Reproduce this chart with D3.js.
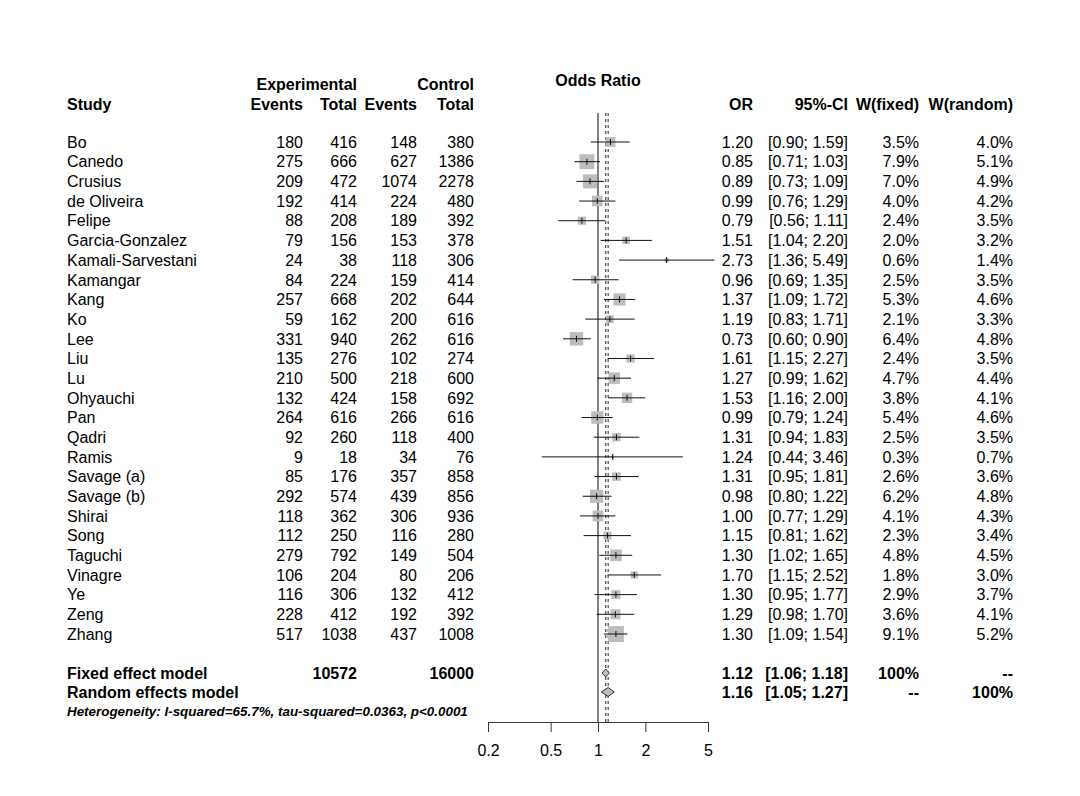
<!DOCTYPE html>
<html>
<head>
<meta charset="utf-8">
<script src="https://cdn.jsdelivr.net/npm/d3@7/dist/d3.min.js"></script>
<style>
  body { margin: 0; background: #fff; }
  svg text { font-family: "Liberation Sans", Arial, Helvetica, sans-serif; fill: #000; }
</style>
</head>
<body>
<svg id="chart" width="1080" height="796"></svg>
<script>
// study level data
const studies = ["Bo", "Canedo", "Crusius", "de Oliveira", "Felipe", "Garcia-Gonzalez",
  "Kamali-Sarvestani", "Kamangar", "Kang", "Ko", "Lee", "Liu", "Lu", "Ohyauchi", "Pan",
  "Qadri", "Ramis", "Savage (a)", "Savage (b)", "Shirai", "Song", "Taguchi", "Vinagre",
  "Ye", "Zeng", "Zhang"];
const expEvents = [180, 275, 209, 192, 88, 79, 24, 84, 257, 59, 331, 135, 210, 132, 264,
  92, 9, 85, 292, 118, 112, 279, 106, 116, 228, 517];
const expTotal = [416, 666, 472, 414, 208, 156, 38, 224, 668, 162, 940, 276, 500, 424, 616,
  260, 18, 176, 574, 362, 250, 792, 204, 306, 412, 1038];
const ctrlEvents = [148, 627, 1074, 224, 189, 153, 118, 159, 202, 200, 262, 102, 218, 158,
  266, 118, 34, 357, 439, 306, 116, 149, 80, 132, 192, 437];
const ctrlTotal = [380, 1386, 2278, 480, 392, 378, 306, 414, 644, 616, 616, 274, 600, 692,
  616, 400, 76, 858, 856, 936, 280, 504, 206, 412, 392, 1008];
const oddsRatio = [1.20, 0.85, 0.89, 0.99, 0.79, 1.51, 2.73, 0.96, 1.37, 1.19, 0.73, 1.61,
  1.27, 1.53, 0.99, 1.31, 1.24, 1.31, 0.98, 1.00, 1.15, 1.30, 1.70, 1.30, 1.29, 1.30];
const ciLower = [0.90, 0.71, 0.73, 0.76, 0.56, 1.04, 1.36, 0.69, 1.09, 0.83, 0.60, 1.15,
  0.99, 1.16, 0.79, 0.94, 0.44, 0.95, 0.80, 0.77, 0.81, 1.02, 1.15, 0.95, 0.98, 1.09];
const ciUpper = [1.59, 1.03, 1.09, 1.29, 1.11, 2.20, 5.49, 1.35, 1.72, 1.71, 0.90, 2.27,
  1.62, 2.00, 1.24, 1.83, 3.46, 1.81, 1.22, 1.29, 1.62, 1.65, 2.52, 1.77, 1.70, 1.54];
const wFixed = [3.5, 7.9, 7.0, 4.0, 2.4, 2.0, 0.6, 2.5, 5.3, 2.1, 6.4, 2.4, 4.7, 3.8, 5.4,
  2.5, 0.3, 2.6, 6.2, 4.1, 2.3, 4.8, 1.8, 2.9, 3.6, 9.1];
const wRandom = [4.0, 5.1, 4.9, 4.2, 3.5, 3.2, 1.4, 3.5, 4.6, 3.3, 4.8, 3.5, 4.4, 4.1, 4.6,
  3.5, 0.7, 3.6, 4.8, 4.3, 3.4, 4.5, 3.0, 3.7, 4.1, 5.2];

// pooled estimates
const models = ["Fixed effect model", "Random effects model"];
const modelOR = [1.12, 1.16];
const modelLower = [1.06, 1.05];
const modelUpper = [1.18, 1.27];
const modelTotals = [["10572", "16000"], ["", ""]];
const modelWFixed = ["100%", "--"];
const modelWRandom = ["--", "100%"];
const heterogeneity = "Heterogeneity: I-squared=65.7%, tau-squared=0.0363, p<0.0001";

const axisTicks = [0.2, 0.5, 1, 2, 5];

const svg = d3.select('#chart');
const fontSize = 16;

const x = d3.scaleLog().domain([0.2, 5]).range([488, 708]);
const rowY = d3.scaleLinear().domain([0, studies.length - 1]).range([142, 634]);
const modelY = [673, 692];
const axisY = 722;
const lineTop = 113;

const cols = {
  study: 67, expEvents: 303, expTotal: 357, ctrlEvents: 417, ctrlTotal: 474,
  or: 753, ci: 848, wf: 919, wr: 1013
};
const fmt = d3.format('.2f');
const pct = (v) => d3.format('.1f')(v) + '%';

function addText(g, txt, xPos, yCenter, anchor, weight, size, style) {
  g.append('text')
    .attr('x', xPos)
    .attr('y', yCenter)
    .attr('dy', '0.36em')
    .attr('text-anchor', anchor)
    .style('font-size', (size || fontSize) + 'px')
    .style('font-weight', weight || 'normal')
    .style('font-style', style || 'normal')
    .text(txt);
}

// headers
const head = svg.append('g');
addText(head, 'Experimental', cols.expTotal, 84, 'end', 'bold');
addText(head, 'Control', cols.ctrlTotal, 84, 'end', 'bold');
addText(head, 'Odds Ratio', x(1), 80, 'middle', 'bold');
addText(head, 'Study', cols.study, 104, 'start', 'bold');
addText(head, 'Events', cols.expEvents, 104, 'end', 'bold');
addText(head, 'Total', cols.expTotal, 104, 'end', 'bold');
addText(head, 'Events', cols.ctrlEvents, 104, 'end', 'bold');
addText(head, 'Total', cols.ctrlTotal, 104, 'end', 'bold');
addText(head, 'OR', cols.or, 104, 'end', 'bold');
addText(head, '95%-CI', cols.ci, 104, 'end', 'bold');
addText(head, 'W(fixed)', cols.wf, 104, 'end', 'bold');
addText(head, 'W(random)', cols.wr, 104, 'end', 'bold');

// reference lines
svg.append('line')
  .attr('x1', x(1)).attr('x2', x(1))
  .attr('y1', lineTop).attr('y2', axisY)
  .attr('stroke', '#000').attr('stroke-width', 1);
modelOR.forEach((v) => {
  svg.append('line')
    .attr('x1', x(v)).attr('x2', x(v))
    .attr('y1', lineTop).attr('y2', axisY)
    .attr('stroke', '#222').attr('stroke-width', 1)
    .attr('stroke-dasharray', '3,3');
});

// study rows
const rows = svg.append('g');
studies.forEach((name, i) => {
  const y = rowY(i);
  addText(rows, name, cols.study, y, 'start');
  addText(rows, expEvents[i], cols.expEvents, y, 'end');
  addText(rows, expTotal[i], cols.expTotal, y, 'end');
  addText(rows, ctrlEvents[i], cols.ctrlEvents, y, 'end');
  addText(rows, ctrlTotal[i], cols.ctrlTotal, y, 'end');
  addText(rows, fmt(oddsRatio[i]), cols.or, y, 'end');
  addText(rows, '[' + fmt(ciLower[i]) + '; ' + fmt(ciUpper[i]) + ']', cols.ci, y, 'end');
  addText(rows, pct(wFixed[i]), cols.wf, y, 'end');
  addText(rows, pct(wRandom[i]), cols.wr, y, 'end');

  // box size from fixed weight
  const s = 5.3 * Math.sqrt(wFixed[i]);
  rows.append('rect')
    .attr('x', x(oddsRatio[i]) - s / 2)
    .attr('y', y - s / 2)
    .attr('width', s).attr('height', s)
    .attr('fill', '#bdbdbd');
  rows.append('line')
    .attr('x1', x(ciLower[i])).attr('x2', x(ciUpper[i]))
    .attr('y1', y).attr('y2', y)
    .attr('stroke', '#111').attr('stroke-width', 1);
  rows.append('line')
    .attr('x1', x(oddsRatio[i])).attr('x2', x(oddsRatio[i]))
    .attr('y1', y - 3).attr('y2', y + 3)
    .attr('stroke', '#111').attr('stroke-width', 1);
});

// pooled rows
const pooled = svg.append('g');
const diamondH = [4, 4.5];
models.forEach((m, i) => {
  const y = modelY[i];
  addText(pooled, m, cols.study, y, 'start', 'bold');
  addText(pooled, modelTotals[i][0], cols.expTotal, y, 'end', 'bold');
  addText(pooled, modelTotals[i][1], cols.ctrlTotal, y, 'end', 'bold');
  addText(pooled, fmt(modelOR[i]), cols.or, y, 'end', 'bold');
  addText(pooled, '[' + fmt(modelLower[i]) + '; ' + fmt(modelUpper[i]) + ']', cols.ci, y, 'end', 'bold');
  addText(pooled, modelWFixed[i], cols.wf, y, 'end', 'bold');
  addText(pooled, modelWRandom[i], cols.wr, y, 'end', 'bold');

  const h = diamondH[i];
  const pts = [[x(modelLower[i]), y], [x(modelOR[i]), y - h],
               [x(modelUpper[i]), y], [x(modelOR[i]), y + h]];
  pooled.append('path')
    .attr('d', d3.line()(pts) + 'Z')
    .attr('fill', '#bdbdbd')
    .attr('stroke', '#333')
    .attr('stroke-width', 1);
});
addText(pooled, heterogeneity, cols.study, 711, 'start', 'bold', 13.4, 'italic');

// axis
const axis = d3.axisBottom(x)
  .tickValues(axisTicks)
  .tickFormat(d3.format('~g'))
  .tickSize(10)
  .tickSizeOuter(0)
  .tickPadding(13);
const axisG = svg.append('g')
  .attr('transform', 'translate(0,' + axisY + ')')
  .call(axis);
axisG.select('.domain').attr('stroke', '#333');
axisG.selectAll('.tick line').attr('stroke', '#333');
axisG.selectAll('.tick text')
  .style('font-size', '16px')
  .style('font-family', '"Liberation Sans", Arial, sans-serif')
  .attr('fill', '#000');
</script>
</body>
</html>
